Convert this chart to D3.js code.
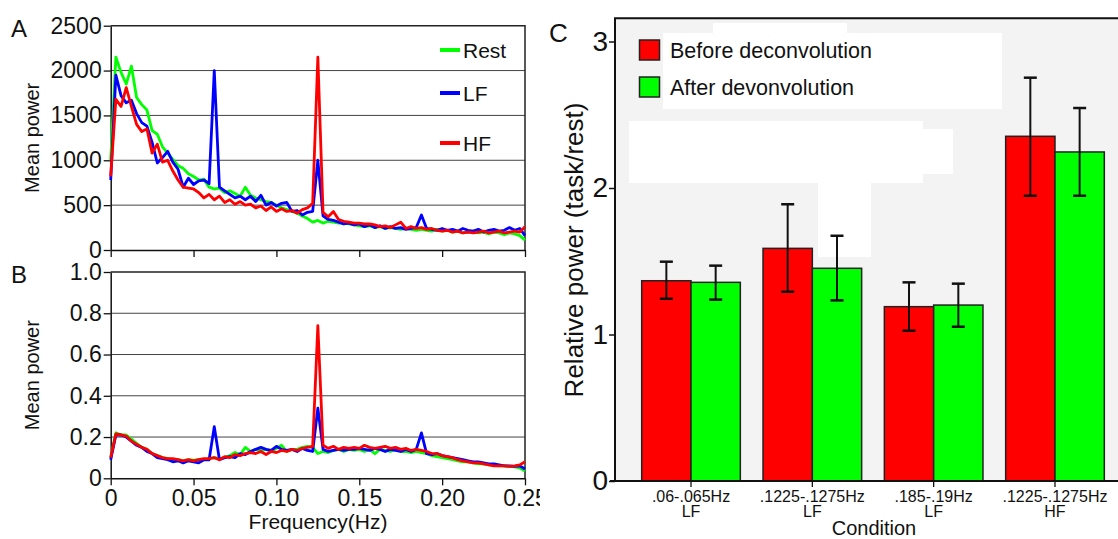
<!DOCTYPE html>
<html>
<head>
<meta charset="utf-8">
<script src="https://cdn.jsdelivr.net/npm/d3@7"></script>
<style>
  body { margin: 0; background: #fff; }
  svg { display: block; font-family: Arial, "Liberation Sans", sans-serif; }
</style>
</head>
<body>
<svg id="chart" width="1118" height="539"></svg>
<script>
// ---- data --------------------------------------------------------------
// spectra sampled every 1/320 Hz, 0 .. 0.25 Hz (81 bins)
var freqStep = 1 / 320;
var freqs = d3.range(81).map(function (i) { return i * freqStep; });

var restA = [1000,2150,1980,1850,2050,1700,1620,1560,1330,1290,
             1150,1080,1010,940,910,850,820,780,790,700,
             680,690,640,660,630,600,700,610,580,560,
             540,530,500,470,450,430,410,380,350,310,
             330,300,320,310,300,300,290,280,270,260,
             270,250,260,240,250,240,230,240,230,220,
             230,220,210,230,210,220,200,210,190,200,
             210,190,200,180,200,190,170,190,180,160,110];
var lfA   = [780,1950,1720,1640,1670,1520,1420,1380,1200,970,
             1030,1100,980,900,700,800,730,770,780,740,
             2000,700,660,620,580,600,560,600,540,610,
             500,530,490,520,530,430,440,390,420,430,
             1000,380,340,330,310,290,300,280,290,260,
             280,250,270,240,260,240,250,230,240,250,
             390,240,230,220,240,220,230,210,240,220,
             210,230,200,220,230,210,220,250,220,240,160];
var hfA   = [820,1680,1600,1810,1600,1400,1320,1350,1080,1180,
             980,1000,880,780,700,690,680,640,580,620,
             560,600,530,560,510,540,500,510,470,490,
             440,480,430,460,430,440,410,450,470,520,
             2150,420,370,430,340,320,310,300,300,290,
             290,280,260,270,250,280,310,240,260,240,
             250,230,240,220,210,220,200,210,190,200,
             190,200,210,190,200,210,190,200,210,200,260];

var restB = [0.10,0.22,0.21,0.21,0.19,0.17,0.15,0.14,0.12,0.11,
             0.10,0.095,0.09,0.09,0.085,0.09,0.088,0.09,0.09,0.095,
             0.10,0.095,0.10,0.11,0.125,0.115,0.15,0.13,0.14,0.135,
             0.14,0.13,0.145,0.16,0.13,0.14,0.14,0.15,0.155,0.15,
             0.12,0.13,0.125,0.135,0.14,0.13,0.14,0.135,0.14,0.13,
             0.14,0.12,0.14,0.135,0.13,0.14,0.13,0.13,0.125,0.13,
             0.125,0.12,0.11,0.105,0.10,0.095,0.09,0.085,0.08,0.08,
             0.075,0.07,0.07,0.065,0.065,0.06,0.06,0.058,0.055,0.05,0.035];
var lfB   = [0.09,0.21,0.21,0.20,0.18,0.16,0.15,0.13,0.12,0.10,
             0.095,0.09,0.08,0.085,0.075,0.085,0.08,0.075,0.09,0.09,
             0.25,0.09,0.10,0.105,0.10,0.12,0.115,0.13,0.14,0.15,
             0.14,0.135,0.155,0.14,0.135,0.14,0.13,0.145,0.135,0.13,
             0.34,0.14,0.13,0.135,0.14,0.135,0.14,0.14,0.145,0.14,
             0.135,0.145,0.14,0.13,0.14,0.135,0.13,0.14,0.13,0.14,
             0.22,0.12,0.115,0.12,0.11,0.105,0.10,0.095,0.09,0.085,
             0.08,0.08,0.075,0.07,0.07,0.065,0.06,0.06,0.058,0.06,0.045];
var hfB   = [0.10,0.215,0.21,0.205,0.18,0.165,0.15,0.14,0.12,0.11,
             0.10,0.095,0.095,0.09,0.085,0.09,0.085,0.09,0.095,0.095,
             0.10,0.09,0.105,0.10,0.115,0.11,0.12,0.125,0.12,0.13,
             0.115,0.13,0.125,0.135,0.13,0.14,0.135,0.145,0.15,0.155,
             0.74,0.16,0.145,0.155,0.14,0.15,0.145,0.15,0.145,0.16,
             0.15,0.145,0.15,0.155,0.145,0.15,0.14,0.145,0.135,0.14,
             0.135,0.13,0.12,0.12,0.11,0.105,0.10,0.09,0.085,0.08,
             0.075,0.075,0.07,0.065,0.06,0.06,0.06,0.058,0.06,0.065,0.08];

var seriesNames = ['Rest', 'LF', 'HF'];

var freqTicks = [0, 0.05, 0.10, 0.15, 0.20, 0.25];
var freqTickLabels = ['0', '0.05', '0.10', '0.15', '0.20', '0.25'];
var aTicks = [0, 500, 1000, 1500, 2000, 2500];
var aTickLabels = ['0', '500', '1000', '1500', '2000', '2500'];
var bTicks = [0, 0.2, 0.4, 0.6, 0.8, 1.0];
var bTickLabels = ['0', '0.2', '0.4', '0.6', '0.8', '1.0'];

var condRange = ['.06-.065Hz', '.1225-.1275Hz', '.185-.19Hz', '.1225-.1275Hz'];
var condBand  = ['LF', 'LF', 'LF', 'HF'];
var groupNames = ['Before deconvolution', 'After devonvolution'];
var beforeMean = [1.367, 1.588, 1.190, 2.353];
var beforeHi   = [1.497, 1.889, 1.356, 2.753];
var beforeLo   = [1.244, 1.292, 1.026, 1.947];
var afterMean  = [1.356, 1.452, 1.201, 2.246];
var afterHi    = [1.470, 1.674, 1.347, 2.546];
var afterLo    = [1.238, 1.233, 1.053, 1.947];
var cTicks = [0, 1, 2, 3];

// ---- drawing -----------------------------------------------------------
var svg = d3.select('#chart');
var lineColors = ['#00ff00', '#0000ff', '#ff0000'];

svg.append('clipPath').attr('id', 'leftClip')
    .append('rect').attr('x', 0).attr('y', 0).attr('width', 540).attr('height', 539);
var left = svg.append('g').attr('clip-path', 'url(#leftClip)');

var x = d3.scaleLinear().domain([0, 0.25]).range([110.7, 525]);

function drawSpectrum (opts) {
    var g = left.append('g');
    var y = d3.scaleLinear().domain(opts.domain).range([opts.bottom, opts.top]);

    // gridlines
    g.selectAll('line.grid').data(opts.ticks.slice(1, -1)).enter()
        .append('line').attr('class', 'grid')
        .attr('x1', x(0)).attr('x2', x(0.25))
        .attr('y1', function (d) { return y(d); })
        .attr('y2', function (d) { return y(d); })
        .attr('stroke', '#444').attr('stroke-width', 1);

    // top and right frame
    g.append('path')
        .attr('d', 'M' + x(0) + ',' + y(opts.domain[1]) + 'H' + x(0.25) + 'V' + y(0))
        .attr('fill', 'none').attr('stroke', '#222').attr('stroke-width', 1.5);

    var yAxis = d3.axisLeft(y).tickValues(opts.ticks)
        .tickFormat(function (d, i) { return opts.tickLabels[i]; })
        .tickSizeInner(7).tickSizeOuter(0).tickPadding(2);
    var ya = g.append('g').attr('transform', 'translate(' + x(0) + ',0)').call(yAxis);
    ya.selectAll('text').attr('font-size', 23).attr('fill', '#111')
        .attr('font-family', 'Arial, "Liberation Sans", sans-serif');

    var xAxis = d3.axisBottom(x).tickValues(freqTicks)
        .tickFormat(function (d, i) { return opts.showX ? freqTickLabels[i] : ''; })
        .tickSizeInner(7).tickSizeOuter(0).tickPadding(4);
    var xa = g.append('g').attr('transform', 'translate(0,' + y(0) + ')').call(xAxis);
    xa.selectAll('text').attr('font-size', 23).attr('fill', '#111')
        .attr('font-family', 'Arial, "Liberation Sans", sans-serif');

    [ya, xa].forEach(function (a) {
        a.select('.domain').attr('stroke', '#111').attr('stroke-width', 1.5);
        a.selectAll('.tick line').attr('stroke', '#111').attr('stroke-width', 1.3);
    });

    var line = d3.line()
        .x(function (d, i) { return x(freqs[i]); })
        .y(function (d) { return y(d); });
    opts.series.forEach(function (s, k) {
        g.append('path').datum(s)
            .attr('d', line)
            .attr('fill', 'none')
            .attr('stroke', lineColors[k])
            .attr('stroke-width', 2.8)
            .attr('stroke-linejoin', 'round');
    });

    g.append('text')
        .attr('transform', 'translate(39,' + ((opts.top + opts.bottom) / 2) + ') rotate(-90)')
        .attr('text-anchor', 'middle').attr('font-size', 20).attr('fill', '#111')
        .text('Mean power');

    g.append('text').attr('x', 11).attr('y', opts.top + 11)
        .attr('font-size', 24).attr('fill', '#111').text(opts.letter);
    return g;
}

var gA = drawSpectrum({ domain: [0, 2500], top: 25.7, bottom: 250, ticks: aTicks,
    tickLabels: aTickLabels, showX: false, series: [restA, lfA, hfA], letter: 'A' });
drawSpectrum({ domain: [0, 1], top: 272, bottom: 478.3, ticks: bTicks,
    tickLabels: bTickLabels, showX: true, series: [restB, lfB, hfB], letter: 'B' });

// legend of panel A
var legendYs = [50, 93, 143];
seriesNames.forEach(function (name, k) {
    gA.append('line').attr('x1', 440).attr('x2', 460)
        .attr('y1', legendYs[k]).attr('y2', legendYs[k])
        .attr('stroke', lineColors[k]).attr('stroke-width', 4);
    gA.append('text').attr('x', 463).attr('y', legendYs[k]).attr('dy', '0.36em')
        .attr('font-size', 21).attr('fill', '#111').text(name);
});

left.append('text').attr('x', 318).attr('y', 529)
    .attr('text-anchor', 'middle').attr('font-size', 21).attr('fill', '#111')
    .text('Frequency(Hz)');

// ---- panel C -----------------------------------------------------------
var gC = svg.append('g');
var yC = d3.scaleLinear().domain([0, 3]).range([481, 41.5]);
var xC = d3.scaleBand().domain(d3.range(condRange.length))
    .range([615, 1131]).paddingInner(0.187).paddingOuter(0.22);
var barW = xC.bandwidth() / 2;

gC.append('rect').attr('x', 616).attr('y', 19).attr('width', 510).attr('height', 461)
    .attr('fill', '#f3f3f3');
// white retouch patches in the original figure
[[663, 33, 339, 76], [713, 23, 134, 12], [629, 121, 294, 62], [923, 129, 30, 45],
 [818, 182, 53, 75]].forEach(function (p) {
    gC.append('rect').attr('x', p[0]).attr('y', p[1]).attr('width', p[2]).attr('height', p[3])
        .attr('fill', '#fff');
});

var groups = [
    { mean: beforeMean, hi: beforeHi, lo: beforeLo, color: '#ff0000', off: 0 },
    { mean: afterMean, hi: afterHi, lo: afterLo, color: '#00ff00', off: 1 }
];
groups.forEach(function (grp) {
    gC.selectAll(null).data(grp.mean).enter().append('rect')
        .attr('x', function (d, i) { return xC(i) + grp.off * barW; })
        .attr('y', function (d) { return yC(d); })
        .attr('width', barW)
        .attr('height', function (d) { return yC(0) - yC(d); })
        .attr('fill', grp.color).attr('stroke', '#222').attr('stroke-width', 1.5);
});
groups.forEach(function (grp) {
    grp.mean.forEach(function (d, i) {
        var cx = xC(i) + grp.off * barW + barW / 2;
        gC.append('line').attr('x1', cx).attr('x2', cx)
            .attr('y1', yC(grp.hi[i])).attr('y2', yC(grp.lo[i]))
            .attr('stroke', '#111').attr('stroke-width', 2);
        [grp.hi[i], grp.lo[i]].forEach(function (v) {
            gC.append('line').attr('x1', cx - 6.5).attr('x2', cx + 6.5)
                .attr('y1', yC(v)).attr('y2', yC(v))
                .attr('stroke', '#111').attr('stroke-width', 2.5);
        });
    });
});

// frame
gC.append('path').attr('d', 'M615,481V18.3H1118')
    .attr('fill', 'none').attr('stroke', '#111').attr('stroke-width', 2);
gC.append('line').attr('x1', 610).attr('x2', 1118).attr('y1', 481).attr('y2', 481)
    .attr('stroke', '#111').attr('stroke-width', 2);

var yAxisC = d3.axisLeft(yC).tickValues(cTicks).tickFormat(d3.format('d'))
    .tickSizeInner(6).tickSizeOuter(0).tickPadding(1);
var yca = gC.append('g').attr('transform', 'translate(615,0)').call(yAxisC);
yca.select('.domain').remove();
yca.selectAll('.tick line').attr('stroke', '#111').attr('stroke-width', 1.5);
yca.selectAll('text').attr('font-size', 28).attr('fill', '#111')
    .attr('font-family', 'Arial, "Liberation Sans", sans-serif');

// category ticks and labels
condRange.forEach(function (lab, i) {
    var cx = xC(i) + barW;
    gC.append('line').attr('x1', cx).attr('x2', cx).attr('y1', 481).attr('y2', 487)
        .attr('stroke', '#111').attr('stroke-width', 1.3);
    var t = gC.append('text').attr('text-anchor', 'middle')
        .attr('font-size', 16).attr('fill', '#111');
    t.append('tspan').attr('x', cx).attr('y', 502).text(lab);
    t.append('tspan').attr('x', cx).attr('y', 517).text(condBand[i]);
});

gC.append('text').attr('x', 874).attr('y', 535)
    .attr('text-anchor', 'middle').attr('font-size', 20).attr('fill', '#111')
    .text('Condition');

gC.append('text')
    .attr('transform', 'translate(583,250) rotate(-90)')
    .attr('text-anchor', 'middle').attr('font-size', 26).attr('fill', '#111')
    .text('Relative power (task/rest)');

gC.append('text').attr('x', 549).attr('y', 42)
    .attr('font-size', 26).attr('fill', '#111').text('C');

// legend of panel C
var legendCYs = [50, 87];
groupNames.forEach(function (name, k) {
    gC.append('rect').attr('x', 639.5).attr('y', legendCYs[k] - 10)
        .attr('width', 20).attr('height', 20)
        .attr('fill', groups[k].color).attr('stroke', '#222').attr('stroke-width', 1.5);
    gC.append('text').attr('x', 670).attr('y', legendCYs[k]).attr('dy', '0.36em')
        .attr('font-size', 21.5).attr('fill', '#111').text(name);
});
</script>
</body>
</html>
